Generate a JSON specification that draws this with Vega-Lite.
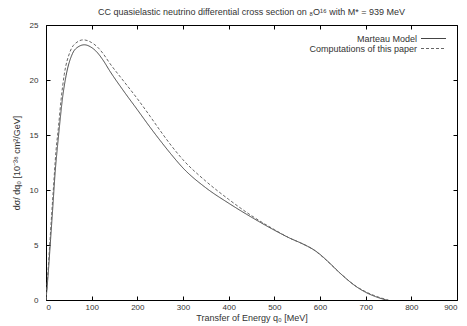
{
  "$schema": "https://vega.github.io/schema/vega-lite/v6.json",
  "width": 411,
  "height": 275,
  "autosize": {"type": "none"},
  "padding": {"left": 46, "top": 25, "right": 10, "bottom": 26},
  "background": "white",
  "config": {
    "font": "Liberation Sans",
    "view": {"stroke": "#000", "strokeWidth": 1},
    "axis": {"grid": false, "domain": false, "tickColor": "#000", "tickSize": -4, "labelColor": "#333", "titleColor": "#333", "labelFont": "Liberation Sans", "titleFont": "Liberation Sans", "labelFontSize": 8, "titleFontSize": 9, "titleFontWeight": "normal"}
  },
  "title": {"text": "CC quasielastic neutrino differential cross section on ₈O¹⁶ with M* = 939 MeV", "font": "Liberation Sans", "fontSize": 9, "fontWeight": "normal", "color": "#333", "offset": 4, "anchor": "middle"},
  "data": {"values": [
    {"q": 0, "v": 0, "s": "Marteau Model"},
    {"q": 5, "v": 2.5, "s": "Marteau Model"},
    {"q": 10, "v": 5.5, "s": "Marteau Model"},
    {"q": 15, "v": 8.5, "s": "Marteau Model"},
    {"q": 20, "v": 11.6, "s": "Marteau Model"},
    {"q": 25, "v": 13.9, "s": "Marteau Model"},
    {"q": 30, "v": 16.0, "s": "Marteau Model"},
    {"q": 36, "v": 18.3, "s": "Marteau Model"},
    {"q": 44, "v": 20.4, "s": "Marteau Model"},
    {"q": 58, "v": 22.4, "s": "Marteau Model"},
    {"q": 70, "v": 23.0, "s": "Marteau Model"},
    {"q": 84, "v": 23.2, "s": "Marteau Model"},
    {"q": 98, "v": 23.0, "s": "Marteau Model"},
    {"q": 110, "v": 22.6, "s": "Marteau Model"},
    {"q": 125, "v": 21.8, "s": "Marteau Model"},
    {"q": 140, "v": 20.8, "s": "Marteau Model"},
    {"q": 170, "v": 19.0, "s": "Marteau Model"},
    {"q": 200, "v": 17.3, "s": "Marteau Model"},
    {"q": 228, "v": 15.7, "s": "Marteau Model"},
    {"q": 250, "v": 14.5, "s": "Marteau Model"},
    {"q": 275, "v": 13.2, "s": "Marteau Model"},
    {"q": 300, "v": 12.0, "s": "Marteau Model"},
    {"q": 350, "v": 10.2, "s": "Marteau Model"},
    {"q": 400, "v": 8.8, "s": "Marteau Model"},
    {"q": 447, "v": 7.6, "s": "Marteau Model"},
    {"q": 500, "v": 6.35, "s": "Marteau Model"},
    {"q": 535, "v": 5.6, "s": "Marteau Model"},
    {"q": 557, "v": 5.2, "s": "Marteau Model"},
    {"q": 572, "v": 4.9, "s": "Marteau Model"},
    {"q": 585, "v": 4.6, "s": "Marteau Model"},
    {"q": 600, "v": 4.15, "s": "Marteau Model"},
    {"q": 620, "v": 3.4, "s": "Marteau Model"},
    {"q": 645, "v": 2.4, "s": "Marteau Model"},
    {"q": 680, "v": 1.2, "s": "Marteau Model"},
    {"q": 700, "v": 0.7, "s": "Marteau Model"},
    {"q": 722, "v": 0.3, "s": "Marteau Model"},
    {"q": 745, "v": 0, "s": "Marteau Model"},
    {"q": 0, "v": 0, "s": "Computations of this paper"},
    {"q": 5, "v": 3, "s": "Computations of this paper"},
    {"q": 9, "v": 5.6, "s": "Computations of this paper"},
    {"q": 16, "v": 10, "s": "Computations of this paper"},
    {"q": 22, "v": 13.6, "s": "Computations of this paper"},
    {"q": 27, "v": 15.6, "s": "Computations of this paper"},
    {"q": 33, "v": 18.2, "s": "Computations of this paper"},
    {"q": 40, "v": 20.5, "s": "Computations of this paper"},
    {"q": 52, "v": 22.5, "s": "Computations of this paper"},
    {"q": 65, "v": 23.35, "s": "Computations of this paper"},
    {"q": 82, "v": 23.65, "s": "Computations of this paper"},
    {"q": 100, "v": 23.4, "s": "Computations of this paper"},
    {"q": 115, "v": 22.9, "s": "Computations of this paper"},
    {"q": 125, "v": 22.4, "s": "Computations of this paper"},
    {"q": 140, "v": 21.5, "s": "Computations of this paper"},
    {"q": 170, "v": 19.9, "s": "Computations of this paper"},
    {"q": 200, "v": 18.3, "s": "Computations of this paper"},
    {"q": 228, "v": 16.7, "s": "Computations of this paper"},
    {"q": 250, "v": 15.4, "s": "Computations of this paper"},
    {"q": 275, "v": 14.0, "s": "Computations of this paper"},
    {"q": 300, "v": 12.75, "s": "Computations of this paper"},
    {"q": 350, "v": 10.8, "s": "Computations of this paper"},
    {"q": 400, "v": 9.15, "s": "Computations of this paper"},
    {"q": 447, "v": 7.75, "s": "Computations of this paper"},
    {"q": 500, "v": 6.4, "s": "Computations of this paper"},
    {"q": 535, "v": 5.6, "s": "Computations of this paper"},
    {"q": 557, "v": 5.2, "s": "Computations of this paper"},
    {"q": 572, "v": 4.9, "s": "Computations of this paper"},
    {"q": 585, "v": 4.6, "s": "Computations of this paper"},
    {"q": 600, "v": 4.12, "s": "Computations of this paper"},
    {"q": 620, "v": 3.38, "s": "Computations of this paper"},
    {"q": 645, "v": 2.4, "s": "Computations of this paper"},
    {"q": 680, "v": 1.22, "s": "Computations of this paper"},
    {"q": 700, "v": 0.75, "s": "Computations of this paper"},
    {"q": 722, "v": 0.35, "s": "Computations of this paper"},
    {"q": 750, "v": 0, "s": "Computations of this paper"}
  ]},
  "layer": [
    {
      "mark": {"type": "line", "interpolate": "monotone", "strokeWidth": 1, "clip": true},
      "encoding": {
        "x": {"field": "q", "type": "quantitative", "scale": {"domain": [0, 900], "nice": false}, "axis": {"orient": "bottom", "values": [0,100,200,300,400,500,600,700,800,900], "title": "Transfer of Energy q₀ [MeV]", "labelPadding": 7, "titlePadding": 2}},
        "y": {"field": "v", "type": "quantitative", "scale": {"domain": [0, 25], "nice": false}, "axis": {"orient": "left", "values": [0,5,10,15,20,25], "title": "dσ/ dq₀ [10⁻³⁸ cm²/GeV]", "labelPadding": 12, "titlePadding": 8}},
        "color": {"field": "s", "type": "nominal", "scale": {"domain": ["Marteau Model", "Computations of this paper"], "range": ["#444444", "#666666"]}, "legend": {"orient": "top-right", "title": null, "symbolType": "M-4,0H4", "symbolSize": 39, "symbolStrokeWidth": 1, "labelFontSize": 9, "labelColor": "#333", "labelAlign": "right", "labelOffset": -21, "rowPadding": 0, "offset": 9, "padding": 0}},
        "strokeDash": {"field": "s", "type": "nominal", "scale": {"domain": ["Marteau Model", "Computations of this paper"], "range": [[1, 0], [3, 2]]}, "legend": {"orient": "top-right", "title": null, "symbolType": "M-4,0H4", "symbolSize": 39, "symbolStrokeWidth": 1, "labelFontSize": 9, "labelColor": "#333", "labelAlign": "right", "labelOffset": -21, "rowPadding": 0, "offset": 9, "padding": 0}}
      }
    },
    {
      "mark": {"type": "line", "opacity": 0},
      "encoding": {
        "x": {"field": "q", "type": "quantitative", "axis": {"orient": "top", "values": [0,100,200,300,400,500,600,700,800,900], "labels": false, "title": null}},
        "y": {"field": "v", "type": "quantitative", "axis": {"orient": "right", "values": [0,5,10,15,20,25], "labels": false, "title": null}}
      }
    }
  ],
  "resolve": {"axis": {"x": "independent", "y": "independent"}}
}
